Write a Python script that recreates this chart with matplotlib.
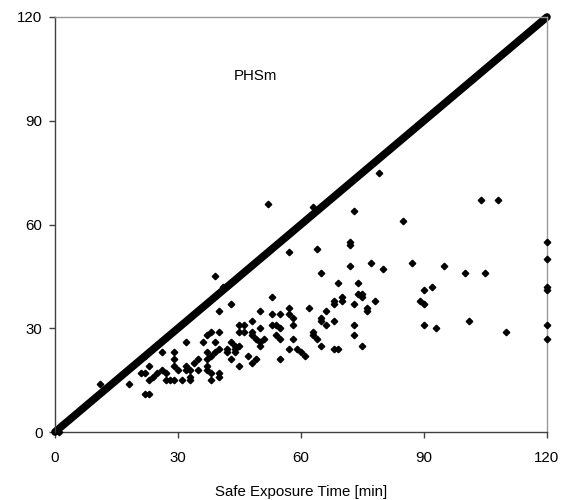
import matplotlib.pyplot as plt

plt.rcParams['font.family'] = ['Liberation Sans', 'DejaVu Sans']

# Safe exposure time (x) vs. predicted time (y)
safe_time = [1, 11, 18, 21, 22, 22, 22, 23, 23, 23, 24, 25, 26, 26, 27, 27, 28, 29,
             29, 29, 29, 30, 31, 32, 32, 32, 32, 33, 33, 33, 34, 35, 35, 36, 37, 37,
             37, 37, 37, 38, 38, 38, 38, 39, 39, 39, 40, 40, 40, 40, 40, 41, 42, 42,
             43, 43, 43, 44, 44, 44, 45, 46, 45, 46, 45, 45, 47, 48, 48, 48, 49, 48,
             49, 50, 50, 50, 50, 51, 52, 53, 53, 53, 54, 54, 55, 55, 55, 55, 57, 57,
             57, 57, 58, 58, 58, 59, 60, 61, 62, 63, 63, 63, 64, 64, 65, 65, 65, 65,
             66, 66, 68, 68, 68, 68, 69, 69, 70, 70, 72, 72, 72, 73, 73, 73, 73, 74,
             74, 75, 75, 75, 76, 76, 77, 78, 79, 80, 85, 87, 89, 90, 90, 90, 92, 93,
             95, 100, 101, 104, 108, 105, 110, 120, 120, 120, 120, 120, 120]
pred_time = [0, 14, 14, 17, 22, 17, 11, 11, 19, 15, 16, 17, 23, 18, 17, 15, 15, 15,
             23, 21, 19, 18, 15, 32, 26, 19, 18, 18, 16, 15, 20, 21, 18, 26, 23, 21,
             19, 18, 28, 29, 15, 22, 17, 45, 26, 23, 35, 29, 24, 17, 16, 42, 24, 23,
             37, 26, 21, 25, 24, 23, 31, 31, 29, 29, 25, 19, 22, 32, 29, 20, 21, 28,
             27, 26, 25, 35, 30, 27, 66, 39, 34, 31, 31, 28, 27, 34, 30, 21, 52, 36,
             34, 24, 33, 31, 27, 24, 23, 22, 36, 65, 29, 28, 27, 53, 46, 33, 32, 25,
             35, 31, 38, 37, 32, 24, 24, 43, 39, 38, 55, 54, 48, 64, 37, 31, 28, 43,
             40, 40, 39, 25, 36, 35, 49, 38, 75, 47, 61, 49, 38, 37, 41, 31, 42, 30,
             48, 46, 32, 67, 67, 46, 29, 55, 50, 42, 41, 31, 27]

ticks = [0, 30, 60, 90, 120]

fig = plt.figure(figsize=(5.61, 5.00), dpi=100)
ax = fig.add_axes([0.098, 0.136, 0.877, 0.83])

# 1:1 line
ax.plot([0, 120], [0, 120], color='black', linewidth=5.5,
        solid_capstyle='round', clip_on=False, zorder=2)
ax.plot(safe_time, pred_time, linestyle='none', marker='D', markersize=3.3,
        color='black', clip_on=False, zorder=3)

ax.set_xlim(0, 120)
ax.set_ylim(0, 120)
ax.set_xticks(ticks)
ax.set_yticks(ticks)
ax.tick_params(direction='out', length=4, width=1, labelsize=10.8,
               colors='#404040', labelcolor='black')
ax.tick_params(axis='x', pad=10)
ax.tick_params(axis='y', pad=5)
ax.set_xlabel('Safe Exposure Time [min]', fontsize=10.8, labelpad=14)
ax.text(49, 103, 'PHSm', fontsize=10.8, ha='center', va='center')

ax.spines['left'].set_color('#404040')
ax.spines['bottom'].set_color('#404040')
ax.spines['top'].set_color('#9a9a9a')
ax.spines['right'].set_color('#9a9a9a')
for s in ax.spines.values():
    s.set_linewidth(1)

fig.savefig('out.png', dpi=100)
